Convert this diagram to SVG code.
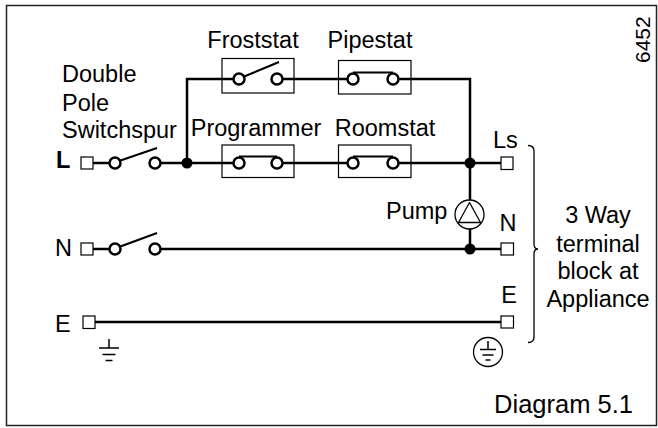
<svg xmlns="http://www.w3.org/2000/svg" width="658" height="428" viewBox="0 0 658 428">
<style>
text{font-family:"Liberation Sans",Arial,sans-serif;font-size:23.5px;fill:#000}
.w{stroke:#000;stroke-width:2.5;fill:none;stroke-linecap:butt}
.bl{stroke:#000;stroke-width:2.2;fill:none}
.box{stroke:#000;stroke-width:1.2;fill:none}
.term{stroke:#000;stroke-width:1.2;fill:#fff}
.c{stroke:#000;stroke-width:2.5;fill:#fff}
.dot{fill:#000}
.thin{stroke:#000;stroke-width:1.5;fill:none}
.mid{text-anchor:middle}
</style>
<rect x="6.5" y="5.5" width="650" height="420" fill="#fff" stroke="#222" stroke-width="1.5"/>
<g id="connectors">
<path class="w" d="M93 163H115M155 163H239M277 163H353M393 163H501"/>
<path class="w" d="M187 163V79H239M277 79H353M393 79H470V200M470 229V249"/>
<path class="w" d="M93 249H115M155 249H501"/>
<path class="w" d="M95 322H501"/>
</g>
<g id="switchspur-L">
<rect class="term" x="81" y="157" width="12" height="12"/>
<line class="bl" x1="119" y1="161" x2="157" y2="148"/>
<circle class="c" cx="115" cy="163" r="5.5"/>
<circle class="c" cx="155" cy="163" r="5.5"/>
</g>
<g id="switchspur-N">
<rect class="term" x="81" y="243" width="12" height="12"/>
<line class="bl" x1="119" y1="247" x2="157" y2="233"/>
<circle class="c" cx="115" cy="249" r="5.5"/>
<circle class="c" cx="155" cy="249" r="5.5"/>
</g>
<g id="earth-terminal-E">
<rect class="term" x="83" y="316" width="12" height="12.5"/>
</g>
<g id="froststat">
<rect class="box" x="222" y="58.5" width="72" height="34.5"/>
<line class="bl" x1="243" y1="77" x2="279" y2="62"/>
<circle class="c" cx="239" cy="79" r="5.5"/>
<circle class="c" cx="277" cy="79" r="5.5"/>
<text class="mid" x="253" y="48">Froststat</text>
</g>
<g id="pipestat">
<rect class="box" x="338.5" y="60.5" width="72.5" height="33.5"/>
<line class="bl" x1="353" y1="72.5" x2="393" y2="72.5"/>
<circle class="c" cx="353" cy="79" r="5.5"/>
<circle class="c" cx="393" cy="79" r="5.5"/>
<text class="mid" x="370" y="48">Pipestat</text>
</g>
<g id="programmer">
<rect class="box" x="222" y="145" width="72" height="32.5"/>
<line class="bl" x1="239" y1="156.5" x2="277" y2="156.5"/>
<circle class="c" cx="239" cy="163" r="5.5"/>
<circle class="c" cx="277" cy="163" r="5.5"/>
<text class="mid" x="256" y="136">Programmer</text>
</g>
<g id="roomstat">
<rect class="box" x="338.5" y="145" width="72.5" height="32.5"/>
<line class="bl" x1="353" y1="156.5" x2="393" y2="156.5"/>
<circle class="c" cx="353" cy="163" r="5.5"/>
<circle class="c" cx="393" cy="163" r="5.5"/>
<text class="mid" x="385" y="136">Roomstat</text>
</g>
<g id="junctions">
<circle class="dot" cx="187" cy="163" r="5.5"/>
<circle class="dot" cx="470" cy="163" r="5.5"/>
<circle class="dot" cx="470" cy="249" r="5.5"/>
</g>
<g id="pump">
<circle cx="469.5" cy="214.5" r="14.5" fill="#fff" stroke="#000" stroke-width="1.3"/>
<path d="M469.5 202.5L480.5 222.5H458.5Z" fill="none" stroke="#000" stroke-width="1.3" stroke-linejoin="round"/>
<text x="386" y="219">Pump</text>
</g>
<g id="terminal-block">
<rect class="term" x="501" y="157" width="12" height="12.5"/>
<rect class="term" x="501" y="243" width="12.5" height="12"/>
<rect class="term" x="501" y="316" width="12.5" height="12"/>
<text x="493" y="148">Ls</text>
<text class="mid" x="508" y="231">N</text>
<text class="mid" x="509" y="303">E</text>
<path d="M528 145.5Q534 145.5 534 151V244Q534 249 538 249Q534 249 534 254V337Q534 342.5 528 342.5" fill="none" stroke="#000" stroke-width="1.3"/>
<text class="mid" x="598" y="223">3 Way</text>
<text class="mid" x="598" y="252">terminal</text>
<text class="mid" x="598" y="279">block at</text>
<text class="mid" x="598" y="307">Appliance</text>
</g>
<g id="earth-left">
<path class="thin" d="M109 339V348M99 348H119M102.5 354.5H115.5M105.5 360.5H112.5"/>
</g>
<g id="earth-right">
<circle cx="488" cy="352" r="14.5" fill="none" stroke="#000" stroke-width="1.3"/>
<path class="thin" d="M488 341V349.5M480 349.5H496M482.5 355H493.5M485.5 360H490.5"/>
</g>
<g id="labels">
<text x="62" y="82">Double</text>
<text x="62" y="111">Pole</text>
<text x="62" y="138">Switchspur</text>
<text x="56" y="168" style="font-weight:bold">L</text>
<text x="55" y="256">N</text>
<text x="55" y="332">E</text>
<text x="633" y="413" text-anchor="end" style="font-size:25.5px">Diagram 5.1</text>
<text transform="translate(650,63) rotate(-90)" style="font-size:21px">6452</text>
</g>
</svg>
